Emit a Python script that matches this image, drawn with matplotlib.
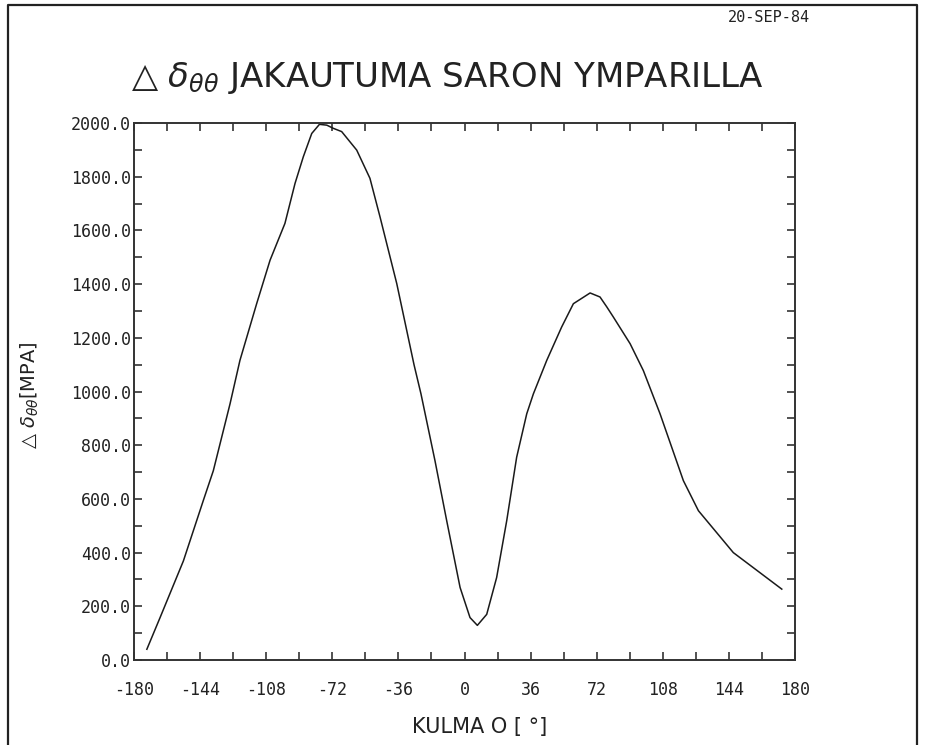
import numpy as np
import matplotlib.pyplot as plt
from matplotlib.lines import Line2D

# kulma (astetta) ja jannitys (MPa) luettu kuvasta
kulma = [-173, -165.8, -153.1, -142.3, -136.8, -127.7, -122.3, -113.2, -105.9,
         -97.8, -92.3, -87.8, -83.2, -79, -75, -71.4, -66.9, -58.7, -51.5,
         -46, -36.9, -27.5, -23.7, -16.1, -9.7, -2.4, 3.0, 7.0, 12.1, 17.5,
         23.0, 28.4, 33.9, 37.5, 44.8, 52.9, 59.3, 68.4, 73.8, 77.5, 81.1,
         90.2, 97.4, 106.5, 119.2, 127.4, 146.4, 172.8]
jannitys = [40, 158, 369, 593, 705, 954, 1116, 1327, 1489,
            1626, 1775, 1874, 1961, 1995, 1992, 1980, 1968, 1899, 1794,
            1650, 1402, 1100, 991, 743, 519, 270, 158, 129, 170, 307,
            519, 755, 917, 991, 1116, 1240, 1327, 1367, 1352, 1315, 1277,
            1178, 1078, 917, 668, 556, 400, 264]

x_ticks = [-180, -144, -108, -72, -36, 0, 36, 72, 108, 144, 180]
y_ticks = [0, 200, 400, 600, 800, 1000, 1200, 1400, 1600, 1800, 2000]

W, H = 925, 745
fig = plt.figure(figsize=(W / 100, H / 100), dpi=100)

# reunus: vasen, yla ja oikea (alareuna jaa kuvan ulkopuolelle)
fx = [8 / W, 8 / W, 917 / W, 917 / W]
fy = [0, 1 - 5 / H, 1 - 5 / H, 0]
fig.lines.append(Line2D(fx, fy, transform=fig.transFigure,
                        color='#222222', linewidth=1.6))

ax = fig.add_axes([134 / W, 1 - 660 / H, 661 / W, 537 / H])
ax.plot(kulma, jannitys, color='#1a1a1a', linewidth=1.1)

ax.set_xlim(-180, 180)
ax.set_ylim(0, 2000)
ax.set_xticks(x_ticks)
ax.set_xticks(np.arange(-180, 181, 18), minor=True)
ax.set_yticks(y_ticks)
ax.set_yticks(np.arange(0, 2001, 100), minor=True)
ax.set_xticklabels([str(v) for v in x_ticks])
ax.set_yticklabels(['%.1f' % v for v in y_ticks])

ax.tick_params(which='both', direction='in', top=True, right=True,
               length=6, width=1.2, color='#333333')
ax.tick_params(axis='x', which='major', pad=15)
ax.tick_params(axis='y', which='major', pad=2)
for lab in ax.get_xticklabels() + ax.get_yticklabels():
    lab.set_fontfamily('DejaVu Sans Mono')
    lab.set_fontsize(12)
    lab.set_color('#222222')
for s in ax.spines.values():
    s.set_linewidth(1.4)
    s.set_color('#333333')

fig.text(810 / W, 1 - 18 / H, '20-SEP-84', ha='right', va='center',
         fontsize=11, family='DejaVu Sans Mono', color='#222222')
fig.text(447 / W, 1 - 78 / H, r'△ $\delta_{\theta\theta}$ JAKAUTUMA SARON YMPARILLA',
         ha='center', va='center', fontsize=24.5, color='#222222')
fig.text(480 / W, 1 - 727 / H, 'KULMA O [ °]', ha='center', va='center',
         fontsize=15, color='#222222')
fig.text(30 / W, 1 - 395 / H, r'△ $\delta_{\theta\theta}$[MPA]', rotation=90,
         ha='center', va='center', fontsize=14, color='#222222')

fig.savefig('out.png', dpi=100)
